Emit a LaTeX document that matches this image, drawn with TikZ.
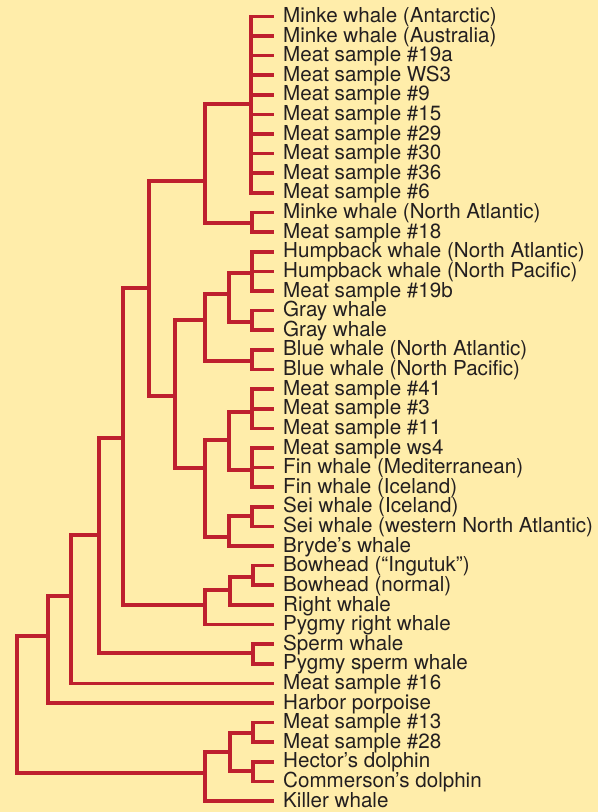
\documentclass[tikz,border=0pt]{standalone}
\usepackage{fontspec}
\setmainfont{TeX Gyre Heros}
\definecolor{treered}{RGB}{190,32,46}
\definecolor{paper}{RGB}{255,237,170}
\definecolor{inkgray}{RGB}{35,31,32}
\begin{document}
\begin{tikzpicture}[x=1pt, y=-1pt,
    branch/.style={line width=3.6pt, draw=treered, line join=miter},
    leaf/.style={anchor=west, inner xsep=9pt, inner ysep=0pt, text height=0.72em+5pt, text depth=0pt,
                 font=\fontsize{20.6}{22}\selectfont, text=inkgray}]
  \fill[paper] (0,0) rectangle (598,812);
  \useasboundingbox (0,0) rectangle (598,812);

  % leaves, top to bottom, one every 19.62pt
  \foreach \name/\label [count=\i from 0] in {
      antarctic/Minke whale (Antarctic), australia/Minke whale (Australia),
      s19a/Meat sample \#19a, ws3/Meat sample WS3, s9/Meat sample \#9,
      s15/Meat sample \#15, s29/Meat sample \#29, s30/Meat sample \#30,
      s36/Meat sample \#36, s6/Meat sample \#6,
      minkeNA/Minke whale (North Atlantic), s18/Meat sample \#18,
      humpNA/Humpback whale (North Atlantic), humpNP/Humpback whale (North Pacific),
      s19b/Meat sample \#19b, grayA/Gray whale, grayB/Gray whale,
      blueNA/Blue whale (North Atlantic), blueNP/Blue whale (North Pacific),
      s41/Meat sample \#41, s3/Meat sample \#3, s11/Meat sample \#11,
      ws4/Meat sample ws4, finMed/Fin whale (Mediterranean), finIce/Fin whale (Iceland),
      seiIce/Sei whale (Iceland), seiWNA/Sei whale (western North Atlantic),
      bryde/Bryde’s whale, bowIng/Bowhead (“Ingutuk”), bowNorm/Bowhead (normal),
      right/Right whale, pygRight/Pygmy right whale,
      sperm/Sperm whale, pygSperm/Pygmy sperm whale,
      s16/Meat sample \#16, porpoise/Harbor porpoise,
      s13/Meat sample \#13, s28/Meat sample \#28,
      hector/Hector’s dolphin, commerson/Commerson’s dolphin, killer/Killer whale}
    \node[leaf] (\name) at (274, {16.3+\i*19.62}) {\label};

  % inner nodes of the tree
  \coordinate (minke)     at (251,104);
  \coordinate (minkeB)    at (252,223);
  \coordinate (minkeAll)  at (205,181);
  \coordinate (hump)      at (252,273);
  \coordinate (gray)      at (252,322);
  \coordinate (humpGray)  at (229,294);
  \coordinate (blue)      at (252,361);
  \coordinate (rorqA)     at (205,320);
  \coordinate (meatA)     at (252,412);
  \coordinate (fin)       at (252,470);
  \coordinate (finAll)    at (229,440);
  \coordinate (sei)       at (252,516);
  \coordinate (seiBryde)  at (229,537);
  \coordinate (rorqB)     at (205,468);
  \coordinate (rorqAll)   at (175,396);
  \coordinate (baleenA)   at (149,288);
  \coordinate (bowhead)   at (253,577);
  \coordinate (bowRight)  at (230,590);
  \coordinate (rightAll)  at (205,605);
  \coordinate (baleen)    at (123,438);
  \coordinate (spermAll)  at (253,653);
  \coordinate (whales)    at (99,535);
  \coordinate (whalesB)   at (71,596);
  \coordinate (porpAll)   at (48,636);
  \coordinate (dolphA)    at (253,733);
  \coordinate (dolphB)    at (253,771);
  \coordinate (dolph)     at (230,752);
  \coordinate (orca)      at (205,773);
  \coordinate (root)      at (17,704);

  % branches: parent/children
  \foreach \p/\cs in {
      minke/{antarctic,australia,s19a,ws3,s9,s15,s29,s30,s36,s6},
      minkeB/{minkeNA,s18}, hump/{humpNA,humpNP,s19b}, gray/{grayA,grayB},
      blue/{blueNA,blueNP}, meatA/{s41,s3,s11}, fin/{ws4,finMed,finIce},
      sei/{seiIce,seiWNA}, seiBryde/{bryde}, bowhead/{bowIng,bowNorm},
      bowRight/{right}, rightAll/{pygRight}, spermAll/{sperm,pygSperm},
      whalesB/{s16}, porpAll/{porpoise}, dolphA/{s13,s28}, dolphB/{hector,commerson},
      orca/{killer}}
    \foreach \c in \cs
      \draw[branch] (\p) |- (\c.west);
  \foreach \p/\cs in {
      minkeAll/{minke,minkeB}, humpGray/{hump,gray}, rorqA/{humpGray,blue},
      finAll/{meatA,fin}, seiBryde/{sei}, rorqB/{finAll,seiBryde},
      rorqAll/{rorqA,rorqB}, baleenA/{minkeAll,rorqAll}, bowRight/{bowhead},
      rightAll/{bowRight}, baleen/{baleenA,rightAll}, whales/{baleen,spermAll},
      whalesB/{whales}, porpAll/{whalesB}, dolph/{dolphA,dolphB}, orca/{dolph},
      root/{porpAll,orca}}
    \foreach \c in \cs
      \draw[branch] (\p) |- (\c);
\end{tikzpicture}
\end{document}
